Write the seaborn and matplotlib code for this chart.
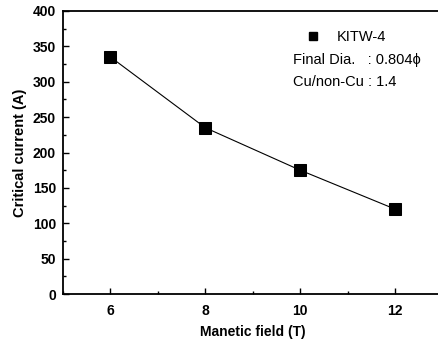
import numpy as np
import pandas as pd
import matplotlib
matplotlib.use("Agg")
import matplotlib.pyplot as plt
from matplotlib.lines import Line2D
from matplotlib.ticker import MultipleLocator
import seaborn as sns

# --- data ---
field = [6, 8, 10, 12]
current = [335, 235, 175, 120]
series_name = "KITW-4"
info_lines = ["Final Dia.   : 0.804\u03d5", "Cu/non-Cu : 1.4"]

df = pd.DataFrame({"field": field, "current": current})

sns.set_style("ticks")
plt.rcParams["font.family"] = ["Liberation Sans", "DejaVu Sans"]
plt.rcParams["text.color"] = "black"

fig = plt.figure(figsize=(4.38, 3.40), dpi=100)
ax = fig.add_axes([63 / 438, 46 / 340, 379.5 / 438, 283 / 340])

sns.lineplot(data=df, x="field", y="current", ax=ax, color="black",
             linewidth=0.8, marker="s", markersize=8, markeredgecolor="black",
             legend=False)

ax.set_xlim(5, 13)
ax.set_ylim(0, 400)
ax.set_xticks([6, 8, 10, 12])
ax.xaxis.set_minor_locator(MultipleLocator(1))
ax.yaxis.set_major_locator(MultipleLocator(50))
ax.yaxis.set_minor_locator(MultipleLocator(25))
ax.tick_params(which="both", direction="in", width=1.0, colors="black",
               labelcolor="black")
ax.tick_params(which="major", length=4, labelsize=10)
ax.tick_params(which="minor", length=2)
ax.tick_params(axis="x", pad=7)
ax.tick_params(axis="y", pad=5)
for lbl in ax.get_xticklabels() + ax.get_yticklabels():
    lbl.set_fontweight("bold")
for sp in ax.spines.values():
    sp.set_visible(True)
    sp.set_linewidth(1.3)
    sp.set_color("black")

ax.set_xlabel("Manetic field (T)", fontsize=10, fontweight="bold",
              labelpad=5, color="black")
ax.set_ylabel("Critical current (A)", fontsize=10.5, fontweight="bold",
              labelpad=4, color="black")

handle = Line2D([], [], color="black", marker="s", markersize=6, linestyle="none")
leg = ax.legend([handle], [series_name], loc="center left",
                bbox_to_anchor=(0.64, 0.908), frameon=False, fontsize=10.5,
                handlelength=1.0, handletextpad=1.1, borderpad=0,
                borderaxespad=0, labelcolor="black")
ax.text(0.606, 0.827, info_lines[0], transform=ax.transAxes, fontsize=10.5,
        va="center", color="black")
ax.text(0.606, 0.749, info_lines[1], transform=ax.transAxes, fontsize=10.5,
        va="center", color="black")

fig.savefig("out.png", dpi=100)
